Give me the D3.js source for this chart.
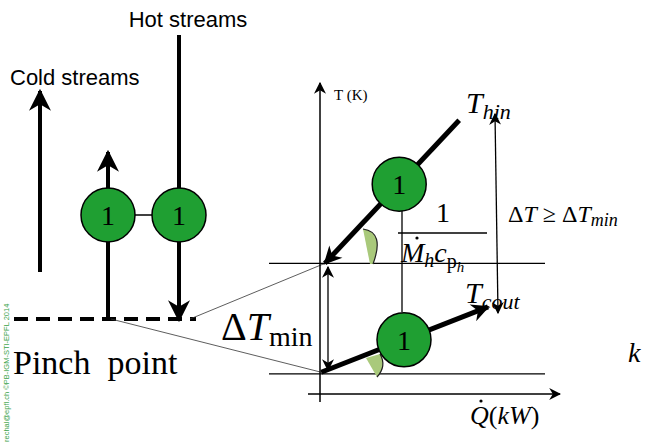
<!DOCTYPE html>
<html><head><meta charset="utf-8">
<script src="https://cdn.jsdelivr.net/npm/d3@7"></script>
</head><body style="margin:0">
<svg id="c" width="646" height="443"></svg>
<script>
// ---- data (diagram units) ----
const streamNames = ["Cold streams", "Hot streams"];
const exchangerStreams = [1, 2];
const exchangerLabel = "1";
// T-Q diagram (Q in %, T in %)
const hotQ = [2, 58], hotT = [42, 88];
const coldQ = [0.5, 70], coldT = [7, 28];
const pinchT = [42, 6.5];
const exchQ = [33, 35];

const SERIF = '"Liberation Serif", Tinos, "Times New Roman"', SANS = '"Liberation Sans", Arimo, Arial';
const svg = d3.select("#c");
const defs = svg.append("defs");
function marker(id, w, h) {
  defs.append("marker").attr("id", id).attr("viewBox", "0 0 10 10")
    .attr("refX", 9).attr("refY", 5).attr("markerWidth", w).attr("markerHeight", h)
    .attr("markerUnits", "userSpaceOnUse").attr("orient", "auto-start-reverse")
    .append("path").attr("d", "M0,0 L10,5 L0,10 L3,5 Z").attr("fill", "#000");
}
marker("big", 22, 22);
marker("mid", 20, 18);
marker("thin", 12, 12);

const green = "#1f9f32", wedge = "#a9c97b";
function txt(font, size, x, y) {
  return svg.append("text").style("font-family", font).attr("font-size", size).attr("x", x).attr("y", y);
}

// ---- left grid ----
const gx = d3.scaleLinear().domain([0, 1, 2]).range([40, 108, 179]);
const gy = d3.scaleLinear().domain([0, 100]).range([319, 35]);
const circY = 215;

txt(SANS, 22, 188, 27).attr("text-anchor", "middle").text(streamNames[1]);
txt(SANS, 22, 10, 85).text(streamNames[0]);

svg.append("line").attr("x1", gx(0)).attr("x2", gx(0))
  .attr("y1", 272).attr("y2", 91)
  .attr("stroke", "#000").attr("stroke-width", 4).attr("marker-end", "url(#big)");
svg.append("line").attr("x1", gx(1)).attr("x2", gx(1))
  .attr("y1", gy(0)).attr("y2", 152)
  .attr("stroke", "#000").attr("stroke-width", 4).attr("marker-end", "url(#big)");
svg.append("line").attr("x1", gx(2)).attr("x2", gx(2))
  .attr("y1", gy(100)).attr("y2", 320)
  .attr("stroke", "#000").attr("stroke-width", 4).attr("marker-end", "url(#big)");
svg.append("line").attr("x1", gx(1)).attr("x2", gx(2)).attr("y1", circY).attr("y2", circY)
  .attr("stroke", "#000").attr("stroke-width", 1.5);
svg.selectAll(".gc").data(exchangerStreams).enter().append("circle")
  .attr("cx", d => gx(d)).attr("cy", circY).attr("r", 27)
  .attr("fill", green).attr("stroke", "#000").attr("stroke-width", 1.5);
svg.selectAll(".gt").data(exchangerStreams).enter().append("text")
  .style("font-family", SERIF)
  .attr("x", d => gx(d)).attr("y", circY + 10).attr("text-anchor", "middle")
  .attr("font-size", 28).text(exchangerLabel);
svg.append("line").attr("x1", 14).attr("x2", 196).attr("y1", 319).attr("y2", 319)
  .attr("stroke", "#000").attr("stroke-width", 4).attr("stroke-dasharray", "14,8");
txt(SERIF, 34, 13, 374).style("white-space", "pre").text("Pinch  point");

// watermark
svg.append("text").style("font-family", SANS).attr("transform", "translate(9,442) rotate(-90)")
  .attr("font-size", 7.5).attr("fill", "#3aa34a")
  .text("rechal@epfl.ch ©PB-IGM-STI-EPFL 2014");

// ---- T-Q diagram ----
const xQ = d3.scaleLinear().domain([0, 100]).range([320, 560]);
const yT = d3.scaleLinear().domain([0, 100]).range([394, 83]);

svg.append("line").attr("x1", gx(1) + 3).attr("y1", 319).attr("x2", xQ(coldQ[0])).attr("y2", yT(coldT[0]))
  .attr("stroke", "#333").attr("stroke-width", 0.8);
svg.append("line").attr("x1", 190).attr("y1", 319).attr("x2", xQ(hotQ[0])).attr("y2", yT(hotT[0]))
  .attr("stroke", "#333").attr("stroke-width", 0.8);

pinchT.forEach(t => svg.append("line").attr("x1", 269).attr("x2", 545)
  .attr("y1", yT(t)).attr("y2", yT(t)).attr("stroke", "#000").attr("stroke-width", 1.3));

svg.append("line").attr("x1", xQ(0)).attr("x2", xQ(0)).attr("y1", 402).attr("y2", yT(100))
  .attr("stroke", "#000").attr("stroke-width", 1.5).attr("marker-end", "url(#thin)");
svg.append("line").attr("x1", 308).attr("x2", xQ(100)).attr("y1", yT(0)).attr("y2", yT(0))
  .attr("stroke", "#000").attr("stroke-width", 1.5).attr("marker-end", "url(#thin)");
txt(SERIF, 15, 334, 100).text("T (K)");
const ql = txt(SERIF, 26, 470, 424);
ql.append("tspan").attr("font-style", "italic").text("Q");
ql.append("tspan").text("(");
ql.append("tspan").attr("font-style", "italic").text("kW");
ql.append("tspan").text(")");
svg.append("circle").attr("cx", 481).attr("cy", 401).attr("r", 1.6).attr("fill", "#000");

// wedges
svg.append("path").attr("d", "M363,229 Q385,232 373,264 L370,264 Z")
  .attr("fill", wedge).attr("stroke", "none");
svg.append("path").attr("d", "M363,229 Q385,232 373,264")
  .attr("fill", "none").attr("stroke", "#222").attr("stroke-width", 1.2);
svg.append("path").attr("d", "M366,358 L380,354 Q387,366 377,377 Z")
  .attr("fill", wedge).attr("stroke", "none");
svg.append("path").attr("d", "M380,354 Q387,366 377,377")
  .attr("fill", "none").attr("stroke", "#222").attr("stroke-width", 1.2);

svg.append("line").attr("x1", 402).attr("x2", 402).attr("y1", 205).attr("y2", 312)
  .attr("stroke", "#000").attr("stroke-width", 1.3);

svg.append("line").attr("x1", xQ(hotQ[1])).attr("y1", yT(hotT[1]))
  .attr("x2", xQ(hotQ[0])).attr("y2", yT(hotT[0]))
  .attr("stroke", "#000").attr("stroke-width", 5).attr("marker-end", "url(#mid)");
svg.append("line").attr("x1", xQ(coldQ[0])).attr("y1", yT(coldT[0]))
  .attr("x2", xQ(coldQ[1])).attr("y2", yT(coldT[1]))
  .attr("stroke", "#000").attr("stroke-width", 5).attr("marker-end", "url(#mid)");

const circs = [{q: exchQ[0], s: hotQ, t: hotT}, {q: exchQ[1], s: coldQ, t: coldT}];
circs.forEach(c => {
  const tt = c.t[0] + (c.t[1] - c.t[0]) * (c.q - c.s[0]) / (c.s[1] - c.s[0]);
  svg.append("circle").attr("cx", xQ(c.q)).attr("cy", yT(tt)).attr("r", 27)
    .attr("fill", green).attr("stroke", "#000").attr("stroke-width", 1.5);
  txt(SERIF, 28, xQ(c.q), yT(tt) + 10).attr("text-anchor", "middle").text(exchangerLabel);
});

// fraction
txt(SERIF, 28, 443, 222).attr("text-anchor", "middle").text("1");
svg.append("line").attr("x1", 398).attr("x2", 487).attr("y1", 233).attr("y2", 233)
  .attr("stroke", "#000").attr("stroke-width", 1.3);
const fr = txt(SERIF, 28, 401, 262).attr("font-style", "italic");
fr.append("tspan").text("M");
fr.append("tspan").attr("font-size", 20).attr("dy", 5).text("h");
fr.append("tspan").attr("dy", -5).text("c");
fr.append("tspan").attr("font-size", 20).attr("dy", 6).attr("font-style", "normal").text("p");
fr.append("tspan").attr("font-size", 15).attr("dy", 4).text("h");
svg.append("circle").attr("cx", 417).attr("cy", 238).attr("r", 1.6).attr("fill", "#000");

svg.append("line").attr("x1", 328).attr("x2", 328).attr("y1", 267).attr("y2", 370)
  .attr("stroke", "#000").attr("stroke-width", 1.3)
  .attr("marker-start", "url(#thin)").attr("marker-end", "url(#thin)");
const dl = txt(SERIF, 40, 221, 340);
dl.append("tspan").text("Δ");
dl.append("tspan").attr("font-style", "italic").text("T");
dl.append("tspan").attr("font-size", 28).attr("dy", 6).text("min");

svg.append("line").attr("x1", 495).attr("y1", 114).attr("x2", 498).attr("y2", 313)
  .attr("stroke", "#000").attr("stroke-width", 1.3)
  .attr("marker-start", "url(#thin)").attr("marker-end", "url(#thin)");

const th = txt(SERIF, 30, 466, 113).attr("font-style", "italic");
th.append("tspan").text("T");
th.append("tspan").attr("font-size", 22).attr("dy", 6).text("hin");
const tc = txt(SERIF, 30, 465, 303).attr("font-style", "italic");
tc.append("tspan").text("T");
tc.append("tspan").attr("font-size", 22).attr("dy", 6).text("cout");
const dt = txt(SERIF, 24, 508, 222);
dt.append("tspan").text("Δ");
dt.append("tspan").attr("font-style", "italic").text("T");
dt.append("tspan").text(" ≥ Δ");
dt.append("tspan").attr("font-style", "italic").text("T");
dt.append("tspan").attr("font-style", "italic").attr("font-size", 18).attr("dy", 4).text("min");
txt(SERIF, 28, 628, 362).attr("font-style", "italic").text("k");
</script>
</body></html>
